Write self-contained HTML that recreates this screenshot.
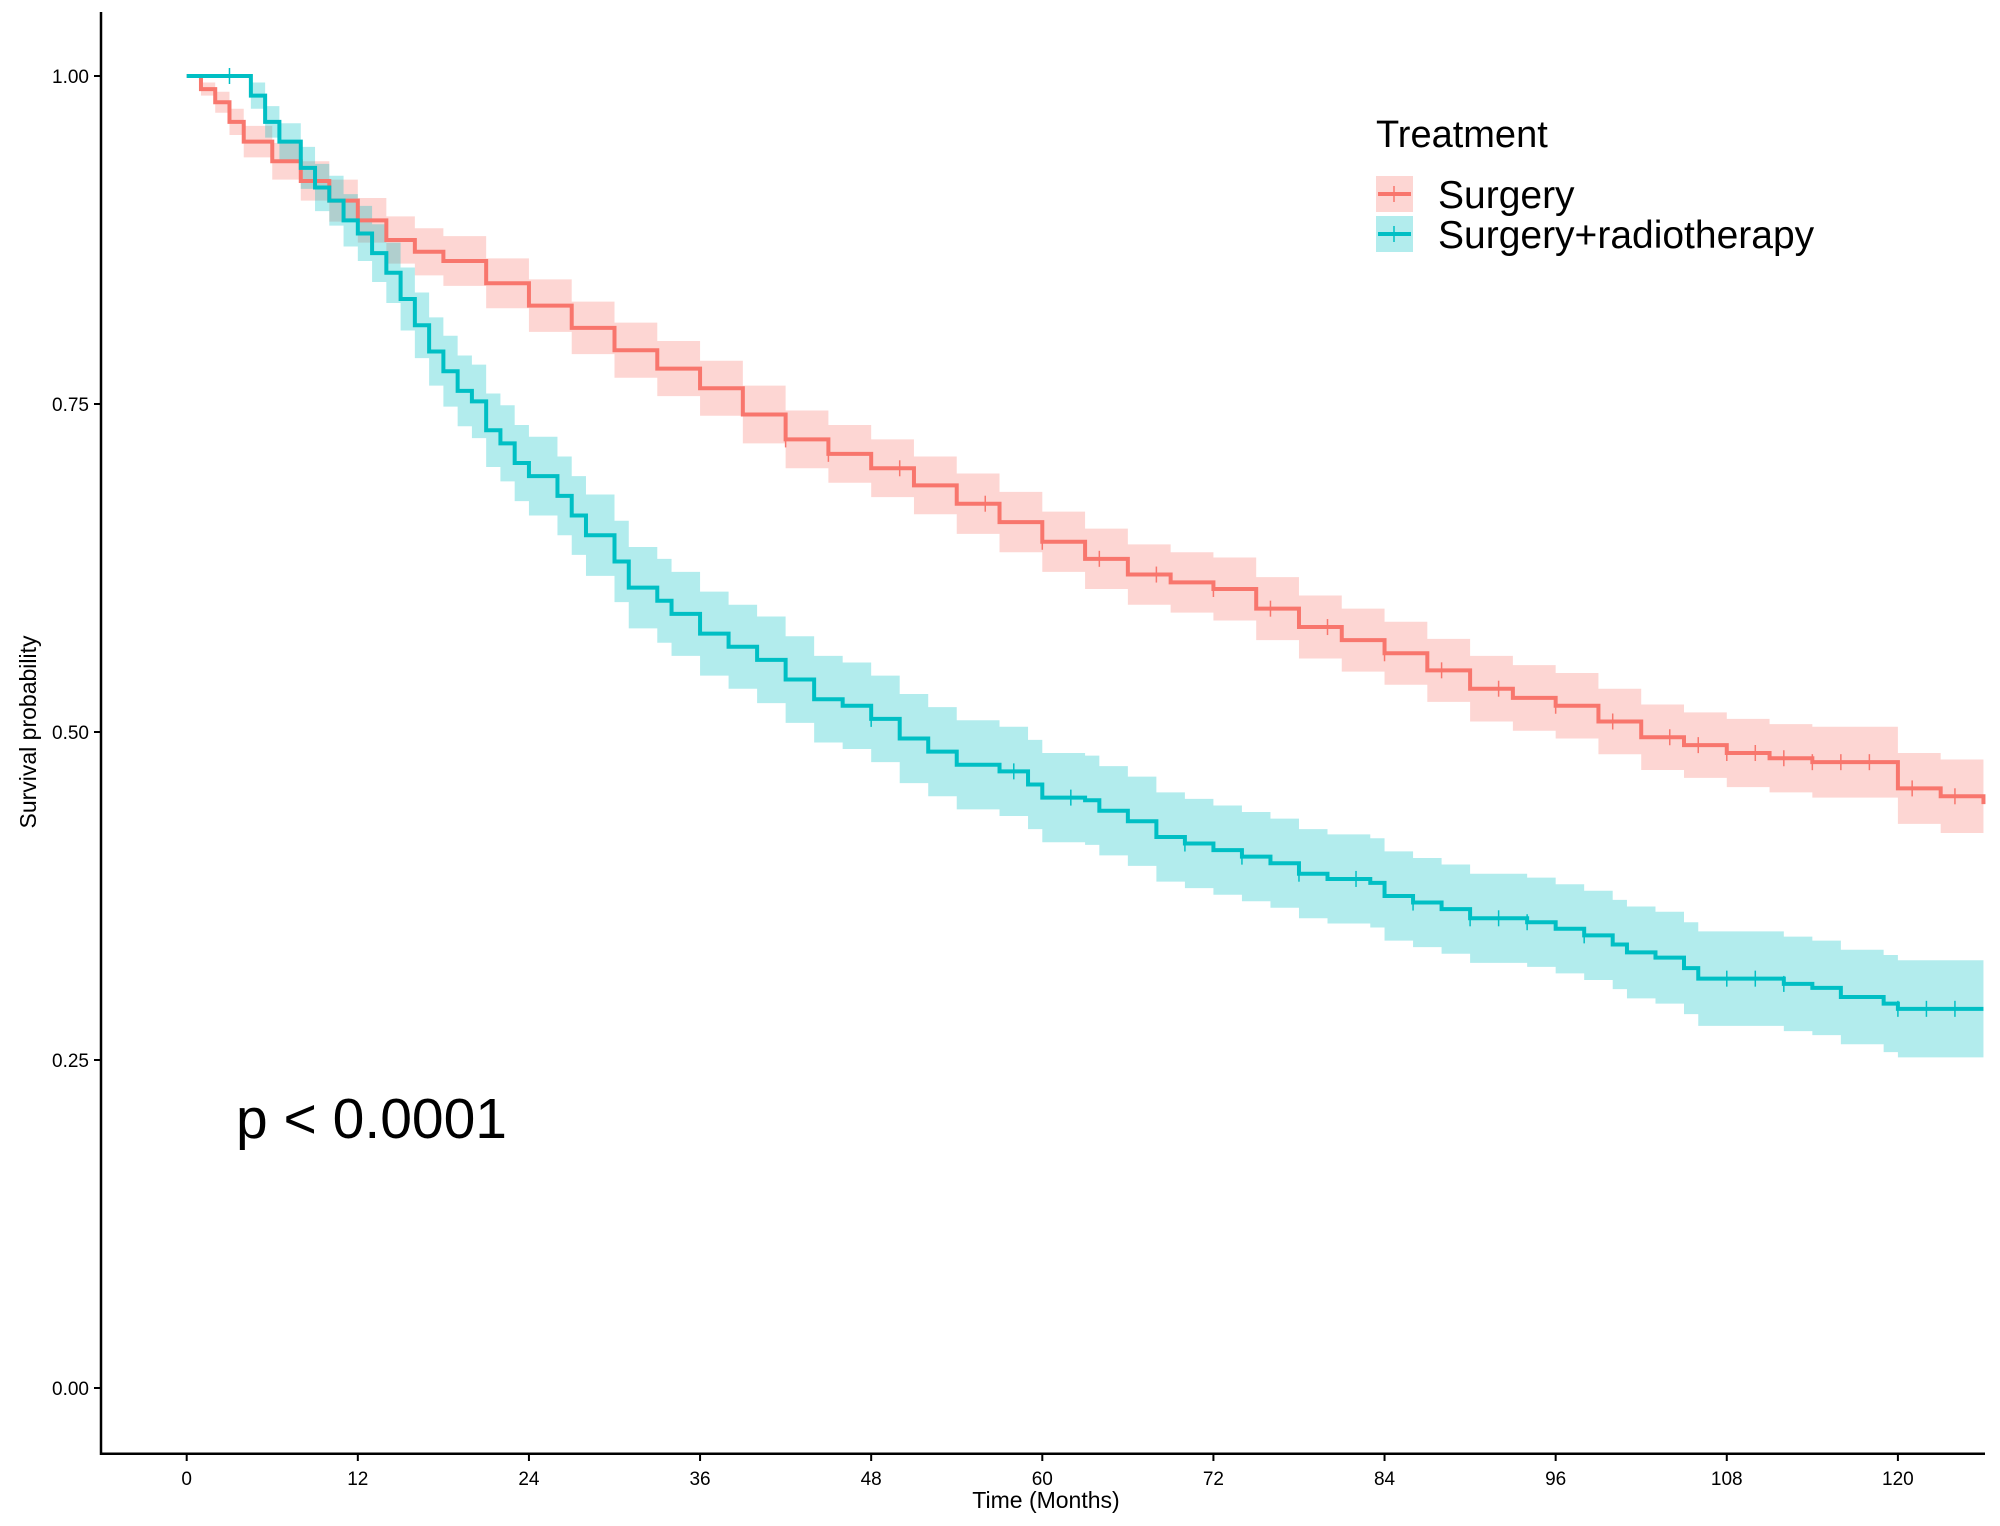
<!DOCTYPE html>
<html><head><meta charset="utf-8"><style>
html,body{margin:0;padding:0;background:#fff;}
svg{display:block;font-family:"Liberation Sans",Arial,sans-serif;}
</style></head><body>
<svg id="chart" width="2000" height="1526" viewBox="0 0 2000 1526" xmlns="http://www.w3.org/2000/svg">
<g id="bands"></g><g id="lines"></g><g id="axes"></g>
<text x="236" y="1138" font-size="57" fill="#000">p &lt; 0.0001</text>
<g>
<text x="1376" y="147" font-size="38" fill="#000">Treatment</text>
<g>
<rect x="1376" y="176" width="37" height="36" fill="#F8766D" fill-opacity="0.3"/>
<line x1="1378" y1="194" x2="1411" y2="194" stroke="#F8766D" stroke-width="4"/>
<line x1="1394" y1="186" x2="1394" y2="202" stroke="#F8766D" stroke-width="1.5"/>
<text x="1438" y="208" font-size="39" fill="#000">Surgery</text></g>
<g>
<rect x="1376" y="216" width="37" height="36" fill="#00BFC4" fill-opacity="0.3"/>
<line x1="1378" y1="234" x2="1411" y2="234" stroke="#00BFC4" stroke-width="4"/>
<line x1="1394" y1="226" x2="1394" y2="242" stroke="#00BFC4" stroke-width="1.5"/>
<text x="1438" y="248" font-size="39" fill="#000">Surgery+radiotherapy</text></g>
</g>
</svg>
<script>
const xTicks=[0,12,24,36,48,60,72,84,96,108,120];
const yTicks=[0,0.25,0.5,0.75,1.0];
const yTickLabels=["0.00","0.25","0.50","0.75","1.00"];
const surgTimes=[0,1,2,3,4,6,8,10,12,14,16,18,21,24,27,30,33,36,39,42,45,48,51,54,57,60,63,66,69,72,75,78,81,84,87,90,93,96,99,102,105,108,111,114,117,120,123,126];
const surgSurv=[1.0,0.99,0.98,0.965,0.95,0.935,0.92,0.905,0.89,0.875,0.866,0.859,0.842,0.825,0.808,0.791,0.777,0.762,0.742,0.723,0.712,0.701,0.688,0.674,0.66,0.645,0.632,0.62,0.614,0.609,0.594,0.58,0.57,0.56,0.547,0.533,0.526,0.52,0.508,0.496,0.49,0.484,0.48,0.477,0.477,0.457,0.451,0.445];
const surgCI=[0,0.005,0.008,0.01,0.012,0.014,0.015,0.016,0.017,0.018,0.018,0.019,0.019,0.02,0.02,0.021,0.021,0.021,0.022,0.022,0.022,0.022,0.022,0.023,0.023,0.023,0.023,0.023,0.023,0.024,0.024,0.024,0.024,0.024,0.024,0.025,0.025,0.025,0.025,0.025,0.025,0.026,0.026,0.027,0.027,0.027,0.028,0.028];
const surgCensor=[42,45,50,56,60,64,68,72,76,80,84,88,92,96,100,104,106,108,110,112,114,116,118,121,124];
const radTimes=[0,4.5,5.5,6.5,8,9,10,11,12,13,14,15,16,17,18,19,20,21,22,23,24,26,27,28,30,31,33,34,36,38,40,42,44,46,48,50,52,54,57,59,60,63,64,66,68,70,72,74,76,78,80,83,84,86,88,90,94,96,98,100,101,103,105,106,112,114,116,119,120,126];
const radSurv=[1.0,0.985,0.965,0.95,0.93,0.915,0.905,0.89,0.88,0.865,0.85,0.83,0.81,0.79,0.775,0.76,0.752,0.73,0.72,0.705,0.695,0.68,0.665,0.65,0.63,0.61,0.6,0.59,0.575,0.565,0.555,0.54,0.525,0.52,0.51,0.495,0.485,0.475,0.47,0.46,0.45,0.448,0.44,0.432,0.42,0.415,0.41,0.405,0.4,0.392,0.388,0.385,0.375,0.37,0.365,0.358,0.355,0.35,0.345,0.338,0.332,0.328,0.32,0.312,0.308,0.305,0.298,0.293,0.289,0.289];
const radCI=[0,0.01,0.012,0.014,0.016,0.018,0.019,0.02,0.021,0.022,0.023,0.024,0.025,0.026,0.027,0.027,0.028,0.028,0.029,0.029,0.03,0.03,0.03,0.031,0.031,0.031,0.032,0.032,0.032,0.032,0.033,0.033,0.033,0.033,0.033,0.034,0.034,0.034,0.034,0.034,0.034,0.034,0.034,0.034,0.034,0.034,0.034,0.034,0.034,0.034,0.034,0.034,0.034,0.034,0.034,0.034,0.034,0.034,0.034,0.034,0.035,0.035,0.035,0.036,0.036,0.036,0.036,0.037,0.037,0.037];
const radCensor=[3,48,58,62,70,74,78,82,86,90,92,94,98,108,110,112,120,122,124];

const X0=186.7,PXM=14.26,Y0=1388,PXU=1312;
const NS="http://www.w3.org/2000/svg";
function xs(t){return X0+t*PXM;}
function ys(v){return Y0-v*PXU;}
function el(tag,attrs,parent){const e=document.createElementNS(NS,tag);for(const k in attrs)e.setAttribute(k,attrs[k]);parent.appendChild(e);return e;}
function stepPath(times,vals){let d="M"+xs(times[0])+","+ys(vals[0]);for(let i=1;i<times.length;i++){d+=" H"+xs(times[i])+" V"+ys(vals[i]);}return d;}
function survAt(times,vals,t){let v=vals[0];for(let i=0;i<times.length;i++){if(times[i]<=t)v=vals[i];}return v;}
function band(times,vals,ci){let up=[],lo=[];for(let i=0;i<times.length;i++){const t2=i<times.length-1?times[i+1]:times[i];up.push([xs(times[i]),ys(Math.min(1,vals[i]+ci[i]))],[xs(t2),ys(Math.min(1,vals[i]+ci[i]))]);lo.push([xs(times[i]),ys(vals[i]-ci[i])],[xs(t2),ys(vals[i]-ci[i])]);}
return up.concat(lo.reverse()).map(p=>p.join(",")).join(" ");}
const bands=document.getElementById('bands'),lines=document.getElementById('lines'),axes=document.getElementById('axes');
const series=[{n:"surgery",c:"#F8766D",t:surgTimes,s:surgSurv,ci:surgCI,cen:surgCensor},{n:"surgery-radiotherapy",c:"#00BFC4",t:radTimes,s:radSurv,ci:radCI,cen:radCensor}];
series.forEach(S=>{
 const b=el('polygon',{points:band(S.t,S.s,S.ci),fill:S.c,'fill-opacity':0.3,stroke:'none'},bands);
 
 
 const p=el('path',{d:stepPath(S.t,S.s),fill:'none',stroke:S.c,'stroke-width':4},lines);
 
 
 S.cen.forEach(t=>{const y=ys(survAt(S.t,S.s,t));const m=el('line',{x1:xs(t),x2:xs(t),y1:y-8,y2:y+8,stroke:S.c,'stroke-width':1.5},lines);
  
  });
});
const ax=el('path',{d:"M101,12 V1453.7 H1985",fill:'none',stroke:'#000','stroke-width':2.5},axes);


xTicks.forEach(t=>{el('line',{x1:xs(t),x2:xs(t),y1:1453.7,y2:1461,stroke:'#000','stroke-width':2},axes);
 const tx=el('text',{x:xs(t),y:1485,'font-size':19,'text-anchor':'middle',fill:'#000'},axes);tx.textContent=t;
 
 });
yTicks.forEach((v,i)=>{el('line',{x1:94,x2:101,y1:ys(v),y2:ys(v),stroke:'#000','stroke-width':2},axes);
 const tx=el('text',{x:89,y:ys(v)+7,'font-size':19,'text-anchor':'end',fill:'#000'},axes);tx.textContent=yTickLabels[i];
 
 });
const xt=el('text',{x:1046,y:1508,'font-size':23,'text-anchor':'middle',fill:'#000'},axes);xt.textContent="Time (Months)";


const yt=el('text',{x:0,y:0,'font-size':23,'text-anchor':'middle',fill:'#000',transform:'translate(36,732) rotate(-90)'},axes);yt.textContent="Survival probability";


</script>
</body></html>
